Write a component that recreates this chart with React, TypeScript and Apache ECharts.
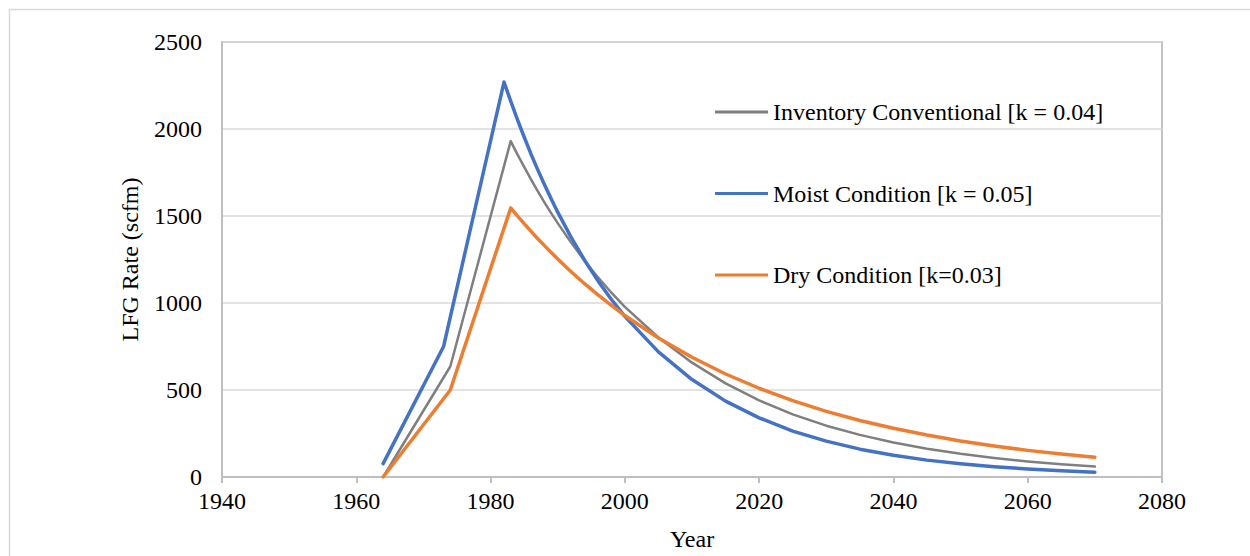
import React, { useEffect, useRef } from "react";
import * as echarts from "echarts";

const xTicks = [1940, 1960, 1980, 2000, 2020, 2040, 2060, 2080];
const yTicks = [0, 500, 1000, 1500, 2000, 2500];

const seriesNames = [
  "Inventory Conventional [k = 0.04]",
  "Moist Condition [k = 0.05]",
  "Dry Condition [k=0.03]",
];

const inventoryYears = [1964, 1974, 1983, 1984, 1985, 1986, 1987, 1988, 1989, 1990, 1992, 1994, 1996, 1998, 2000, 2005, 2010, 2015, 2020, 2025, 2030, 2035, 2040, 2045, 2050, 2055, 2060, 2065, 2070];
const inventoryValues = [0, 635, 1930, 1854, 1782, 1712, 1645, 1580, 1518, 1459, 1347, 1243, 1147, 1059, 978, 802, 657, 538, 440, 360, 295, 242, 198, 162, 133, 109, 89, 73, 60];

const moistYears = [1964, 1973, 1982, 1983, 1984, 1985, 1986, 1987, 1988, 1989, 1990, 1992, 1994, 1996, 1998, 2000, 2005, 2010, 2015, 2020, 2025, 2030, 2035, 2040, 2045, 2050, 2055, 2060, 2065, 2070];
const moistValues = [77, 750, 2270, 2160, 2054, 1954, 1858, 1768, 1682, 1600, 1522, 1377, 1246, 1127, 1020, 923, 719, 560, 436, 340, 264, 206, 160, 125, 97, 76, 59, 46, 36, 28];

const dryYears = [1964, 1974, 1983, 1984, 1985, 1986, 1987, 1988, 1989, 1990, 1992, 1994, 1996, 1998, 2000, 2005, 2010, 2015, 2020, 2025, 2030, 2035, 2040, 2045, 2050, 2055, 2060, 2065, 2070];
const dryValues = [0, 500, 1546, 1500, 1456, 1413, 1371, 1331, 1291, 1253, 1180, 1111, 1047, 986, 928, 799, 688, 592, 510, 439, 377, 325, 280, 241, 207, 178, 153, 132, 114];

const colors = ["#7F7F7F", "#4472C4", "#ED7D31"];
const widths = [2.5, 3.5, 3.5];

const pairs = (xs: number[], ys: number[]) => xs.map((x, i) => [x, ys[i]]);

export default function App() {
  const ref = useRef<HTMLDivElement>(null);
  useEffect(() => {
    if (!ref.current) return;
    const chart = echarts.init(ref.current, null, { renderer: "svg" });
    const font = "'Liberation Serif', 'Times New Roman', serif";
    const data = [
      pairs(inventoryYears, inventoryValues),
      pairs(moistYears, moistValues),
      pairs(dryYears, dryValues),
    ];
    chart.setOption({
      animation: false,
      backgroundColor: "#ffffff",
      textStyle: { fontFamily: font },
      graphic: [
        {
          type: "rect",
          shape: { x: 9.5, y: 9.5, width: 1400, height: 700 },
          style: { fill: "none", stroke: "#d9d9d9", lineWidth: 1.5 },
          silent: true,
          z: -10,
        },
      ],
      grid: {
        left: 222,
        top: 42,
        width: 940,
        height: 435,
        show: true,
        borderColor: "#b0b0b0",
        borderWidth: 1.5,
        backgroundColor: "transparent",
      },
      legend: {
        orient: "vertical",
        left: 715,
        top: 100,
        padding: 0,
        icon: "rect",
        itemWidth: 53,
        itemHeight: 3,
        itemGap: 57.5,
        data: seriesNames.map((name, i) => ({
          name,
          icon: "rect",
          itemStyle: { color: colors[i] },
        })),
        itemStyle: { borderWidth: 0 },
        textStyle: { fontFamily: font, fontSize: 24, color: "#000", padding: [0, 0, 0, 0] },
        selectedMode: false,
      },
      xAxis: {
        type: "value",
        min: 1940,
        max: 2080,
        interval: 20,
        name: "Year",
        nameLocation: "middle",
        nameGap: 50,
        nameTextStyle: { fontFamily: font, fontSize: 24, color: "#000" },
        axisLine: { show: true, lineStyle: { color: "#bfbfbf", width: 2 } },
        axisTick: { show: true, length: 6, lineStyle: { color: "#bfbfbf", width: 2 } },
        axisLabel: {
          fontFamily: font,
          fontSize: 24,
          color: "#000",
          margin: 12,
          formatter: (v: number) => (xTicks.includes(v) ? String(v) : ""),
        },
        splitLine: { show: false },
      },
      yAxis: {
        type: "value",
        min: 0,
        max: 2500,
        interval: 500,
        name: "LFG Rate (scfm)",
        nameLocation: "middle",
        nameGap: 80,
        nameRotate: 90,
        nameTextStyle: { fontFamily: font, fontSize: 24, color: "#000" },
        axisLine: { show: true, lineStyle: { color: "#bfbfbf", width: 2 } },
        axisTick: { show: false },
        axisLabel: {
          fontFamily: font,
          fontSize: 24,
          color: "#000",
          margin: 20,
          formatter: (v: number) => (yTicks.includes(v) ? String(v) : ""),
        },
        splitLine: { show: true, lineStyle: { color: "#d9d9d9", width: 1.5 } },
      },
      series: seriesNames.map((name, i) => ({
        name,
        type: "line",
        data: data[i],
        symbol: "none",
        showSymbol: false,
        smooth: false,
        color: colors[i],
        lineStyle: { color: colors[i], width: widths[i], cap: "round", join: "round" },
        itemStyle: { color: colors[i] },
      })),
    });
    return () => chart.dispose();
  }, []);
  return (
    <div
      ref={ref}
      style={{ position: "absolute", left: 0, top: 0, width: 1250, height: 556 }}
    />
  );
}
